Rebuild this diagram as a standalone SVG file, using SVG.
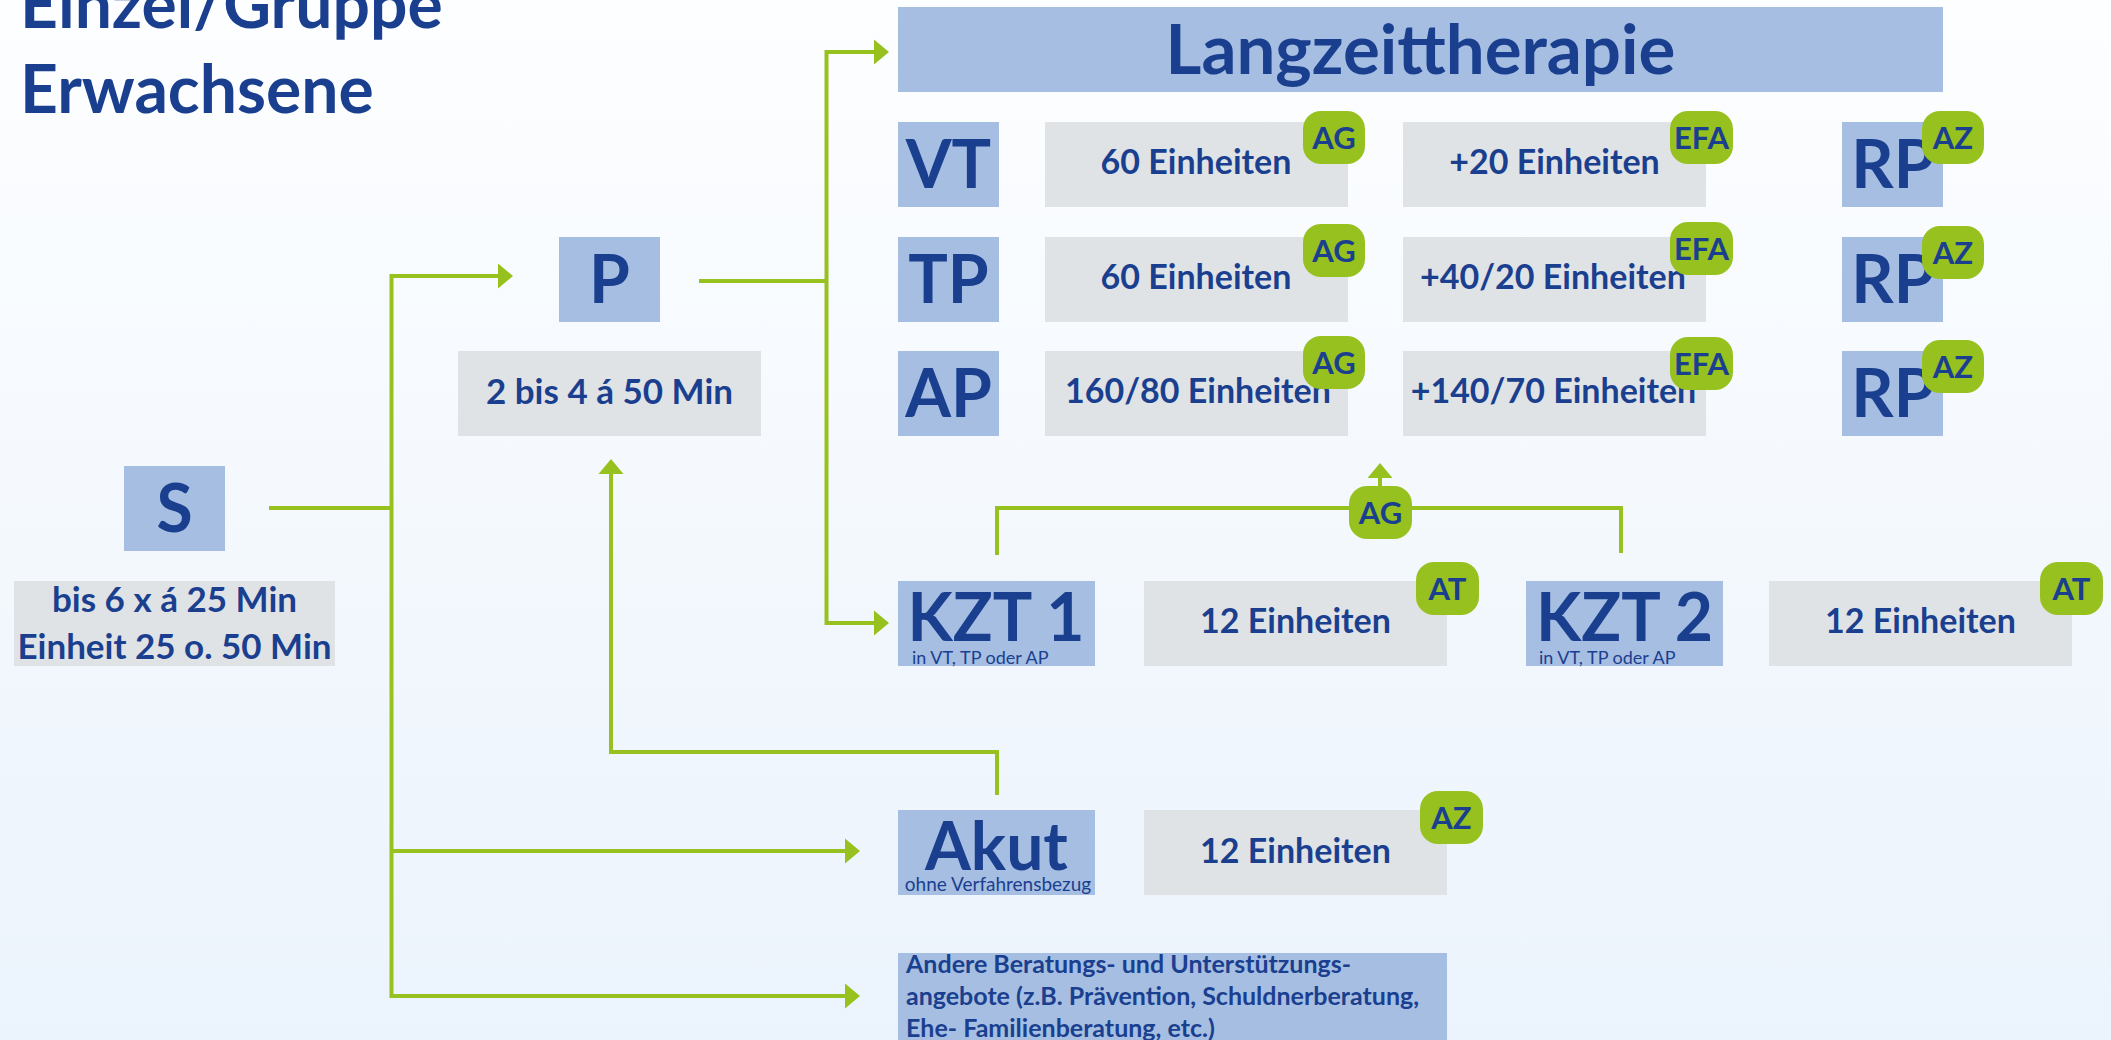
<svg xmlns="http://www.w3.org/2000/svg" width="2111" height="1040" viewBox="0 0 2111 1040">
<defs>
<linearGradient id="bg" x1="0" y1="0" x2="0" y2="1">
<stop offset="0" stop-color="#fdfeff"/>
<stop offset="1" stop-color="#ebf3fc"/>
</linearGradient>
<marker id="ah" markerUnits="userSpaceOnUse" markerWidth="16" markerHeight="26" refX="0" refY="12.5" orient="auto" overflow="visible">
<path d="M0,0 L15,12.5 L0,25 Z" fill="#97c11f"/>
</marker>
<style>
.t{font-family:Lato,"Liberation Sans",sans-serif;font-weight:700;fill:#1b3f8f;text-anchor:middle}
.big{font-size:66px}
.mid{font-size:34px}
.bdg{font-size:31px}
.sm{font-size:18px;font-weight:400;text-anchor:start}
.blue{fill:#a5bee2}
.gray{fill:#e0e3e6}
.badge{fill:#97c11f}
.c{fill:none;stroke:#97c11f;stroke-width:4}
.a{marker-end:url(#ah)}
</style>
</defs>
<rect width="2111" height="1040" fill="url(#bg)"/>

<g id="title">
<text class="t big" x="20" y="28" style="text-anchor:start">Einzel/Gruppe</text>
<text class="t big" x="20" y="113" style="text-anchor:start">Erwachsene</text>
</g>

<g id="connectors">
<path class="c" d="M269,508 H391.5"/>
<path class="c a" d="M391.5,508 V276 H498"/>
<path class="c a" d="M391.5,508 V996 H845"/>
<path class="c a" d="M391.5,851 H845"/>
<path class="c" d="M699,281 H826.5"/>
<path class="c a" d="M826.5,281 V52 H874"/>
<path class="c a" d="M826.5,281 V623 H874"/>
<path class="c a" d="M997,795 V752 H611 V474"/>
<path class="c" d="M997,555 V508 H1621 V553"/>
<path class="c a" d="M1380,487 V478"/>
</g>

<g id="S">
<rect class="blue" x="124" y="466" width="101" height="85"/>
<text class="t big" x="174.5" y="532">S</text>
</g>
<g id="S-info">
<rect class="gray" x="14" y="581" width="321" height="85"/>
<text class="t" x="174.5" y="612" style="font-size:35px">bis 6 x á 25 Min</text>
<text class="t" x="174.5" y="659" style="font-size:35px">Einheit 25 o. 50 Min</text>
</g>

<g id="P">
<rect class="blue" x="559" y="237" width="101" height="85"/>
<text class="t big" x="609.5" y="303">P</text>
</g>
<g id="P-info">
<rect class="gray" x="458" y="351" width="303" height="85"/>
<text class="t" x="609.5" y="404" style="font-size:35px">2 bis 4 á 50 Min</text>
</g>

<g id="Langzeittherapie">
<rect class="blue" x="898" y="7" width="1045" height="85"/>
<text class="t" x="1420.5" y="74" style="font-size:69px">Langzeittherapie</text>
</g>

<g id="VT">
<rect class="blue" x="898" y="122" width="101" height="85"/>
<text class="t big" x="948.5" y="188">VT</text>
</g>
<g id="VT-60">
<rect class="gray" x="1045" y="122" width="303" height="85"/>
<text class="t mid" x="1196" y="174">60 Einheiten</text>
<rect class="badge" x="1303" y="111" width="62" height="53" rx="18"/>
<text class="t bdg" x="1334" y="149">AG</text>
</g>
<g id="VT-20">
<rect class="gray" x="1403" y="122" width="303" height="85"/>
<text class="t mid" x="1554.5" y="174">+20 Einheiten</text>
<rect class="badge" x="1670" y="111" width="63" height="53" rx="18"/>
<text class="t bdg" x="1701.5" y="149">EFA</text>
</g>
<g id="VT-RP">
<rect class="blue" x="1842" y="122" width="101" height="85"/>
<text class="t big" x="1893" y="188">RP</text>
<rect class="badge" x="1922" y="111" width="62" height="53" rx="18"/>
<text class="t bdg" x="1953" y="149">AZ</text>
</g>

<g id="TP">
<rect class="blue" x="898" y="237" width="101" height="85"/>
<text class="t big" x="948.5" y="303">TP</text>
</g>
<g id="TP-60">
<rect class="gray" x="1045" y="237" width="303" height="85"/>
<text class="t mid" x="1196" y="289">60 Einheiten</text>
<rect class="badge" x="1303" y="224" width="62" height="53" rx="18"/>
<text class="t bdg" x="1334" y="262">AG</text>
</g>
<g id="TP-40">
<rect class="gray" x="1403" y="237" width="303" height="85"/>
<text class="t mid" x="1553" y="289">+40/20 Einheiten</text>
<rect class="badge" x="1670" y="222" width="63" height="53" rx="18"/>
<text class="t bdg" x="1701.5" y="260">EFA</text>
</g>
<g id="TP-RP">
<rect class="blue" x="1842" y="237" width="101" height="85"/>
<text class="t big" x="1893" y="303">RP</text>
<rect class="badge" x="1922" y="226" width="62" height="53" rx="18"/>
<text class="t bdg" x="1953" y="264">AZ</text>
</g>

<g id="AP">
<rect class="blue" x="898" y="351" width="101" height="85"/>
<text class="t big" x="948.5" y="417">AP</text>
</g>
<g id="AP-160">
<rect class="gray" x="1045" y="351" width="303" height="85"/>
<text class="t mid" x="1198" y="403">160/80 Einheiten</text>
<rect class="badge" x="1303" y="336" width="62" height="53" rx="18"/>
<text class="t bdg" x="1334" y="374">AG</text>
</g>
<g id="AP-140">
<rect class="gray" x="1403" y="351" width="303" height="85"/>
<text class="t mid" x="1553.5" y="403">+140/70 Einheiten</text>
<rect class="badge" x="1670" y="337" width="63" height="53" rx="18"/>
<text class="t bdg" x="1701.5" y="375">EFA</text>
</g>
<g id="AP-RP">
<rect class="blue" x="1842" y="351" width="101" height="85"/>
<text class="t big" x="1893" y="417">RP</text>
<rect class="badge" x="1922" y="340" width="62" height="53" rx="18"/>
<text class="t bdg" x="1953" y="378">AZ</text>
</g>

<g id="AG-bracket-badge">
<rect class="badge" x="1349" y="486" width="63" height="53" rx="18"/>
<text class="t bdg" x="1380.5" y="524">AG</text>
</g>

<g id="KZT1">
<rect class="blue" x="898" y="581" width="197" height="85"/>
<text class="t big" x="996" y="641">KZT 1</text>
<text class="t sm" x="912" y="664">in VT, TP oder AP</text>
</g>
<g id="KZT1-12">
<rect class="gray" x="1144" y="581" width="303" height="85"/>
<text class="t mid" x="1295.5" y="633">12 Einheiten</text>
<rect class="badge" x="1416" y="562" width="63" height="53" rx="18"/>
<text class="t bdg" x="1447.5" y="600">AT</text>
</g>
<g id="KZT2">
<rect class="blue" x="1526" y="581" width="197" height="85"/>
<text class="t big" x="1624.5" y="641">KZT 2</text>
<text class="t sm" x="1539" y="664">in VT, TP oder AP</text>
</g>
<g id="KZT2-12">
<rect class="gray" x="1769" y="581" width="303" height="85"/>
<text class="t mid" x="1920.5" y="633">12 Einheiten</text>
<rect class="badge" x="2040" y="562" width="63" height="53" rx="18"/>
<text class="t bdg" x="2071.5" y="600">AT</text>
</g>

<g id="Akut">
<rect class="blue" x="898" y="810" width="197" height="85"/>
<text class="t big" x="996.5" y="870">Akut</text>
<text class="t sm" x="998" y="891" style="text-anchor:middle;font-size:19px">ohne Verfahrensbezug</text>
</g>
<g id="Akut-12">
<rect class="gray" x="1144" y="810" width="303" height="85"/>
<text class="t mid" x="1295.5" y="863">12 Einheiten</text>
<rect class="badge" x="1420" y="791" width="63" height="53" rx="18"/>
<text class="t bdg" x="1451.5" y="829">AZ</text>
</g>

<g id="Andere">
<rect class="blue" x="898" y="953" width="549" height="100"/>
<text class="t" x="906" y="973" style="font-size:25px;text-anchor:start">Andere Beratungs- und Unterstützungs-</text>
<text class="t" x="906" y="1005" style="font-size:25px;text-anchor:start">angebote (z.B. Prävention, Schuldnerberatung,</text>
<text class="t" x="906" y="1037" style="font-size:25px;text-anchor:start">Ehe- Familienberatung, etc.)</text>
</g>
</svg>
